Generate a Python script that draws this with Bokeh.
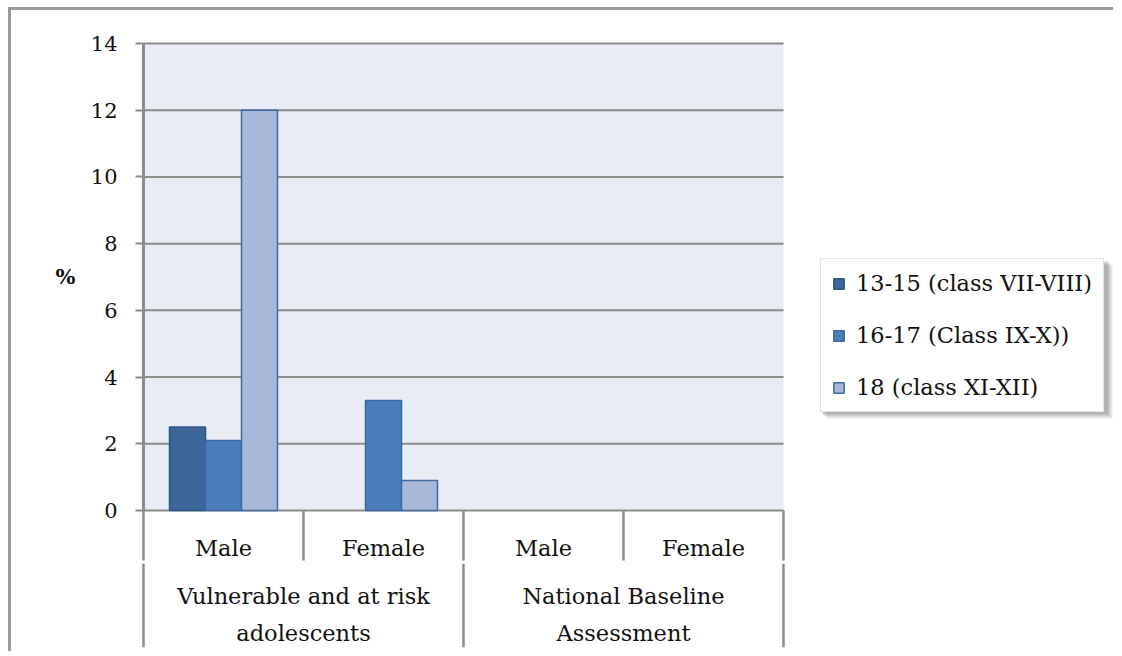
from bokeh.plotting import figure
from bokeh.models import (ColumnDataSource, Range1d, Legend, LegendItem,
                          BoxAnnotation, FixedTicker)
from bokeh.core.properties import value
from bokeh.embed import file_html
from bokeh.resources import INLINE

# ---------------- data ----------------
groups = ["Vulnerable and at risk adolescents", "National Baseline Assessment"]
group_labels = ["Vulnerable and at risk\nadolescents", "National Baseline\nAssessment"]
genders = ["Male", "Female"]
series_names = ["13-15 (class VII-VIII)", "16-17 (Class IX-X))", "18 (class XI-XII)"]
age_13_15 = [2.5, 0.0, 0.0, 0.0]
age_16_17 = [2.1, 3.3, 0.0, 0.0]
age_18 = [12.0, 0.9, 0.0, 0.0]
y_ticks = [0, 2, 4, 6, 8, 10, 12, 14]
y_label = "%"

# ---------------- style / layout ----------------
FONT = "DejaVu Serif"
GRAY = "#8c8c8c"
fills = ["#3c6698", "#4a7ebb", "#a8b8d8"]
lines = ["#2f5785", "#3a68a0", "#3d6aa3"]
offsets = [-0.225, 0.0, 0.225]
bar_w = 0.225

factors = [(g, s) for g in groups for s in genders]
n_cat = len(factors)
n_sub = len(genders)
cat_pos = [i + 0.5 for i in range(n_cat)]               # centre of each category slot
grp_pos = [sum(cat_pos[k * n_sub:(k + 1) * n_sub]) / n_sub for k in range(len(groups))]
cat_edges = [float(i) for i in range(n_cat + 1)]
grp_edges = [float(k * n_sub) for k in range(len(groups) + 1)]

PX = 160.0      # pixels per category slot
PY = 33.357     # pixels per y unit
X0, Y0 = -132 / PX, -4.317
p = figure(
    x_range=Range1d(X0, n_cat + 333 / PX),
    y_range=Range1d(Y0, 14.989),
    width=1105, height=644,
    output_backend="svg", toolbar_location=None,
    x_axis_location=None,
    min_border_left=0, min_border_right=0, min_border_top=0, min_border_bottom=0,
    background_fill_color="white", border_fill_color="white",
    outline_line_color=None,
)
p.styles = {"margin-left": "8px", "margin-top": "7px",
            "border-left": "3px solid #9a9a9a", "border-top": "3px solid #9a9a9a"}

y0, y1 = min(y_ticks), max(y_ticks)

# plot-area background band
p.add_layout(BoxAnnotation(left=cat_edges[0], right=cat_edges[-1], bottom=y0, top=y1,
                           fill_color="#e8ecf4", fill_alpha=1, line_alpha=0, level="image"))

# horizontal gridlines
p.segment(x0=cat_edges[0], x1=cat_edges[-1], y0=y_ticks, y1=y_ticks,
          line_color=GRAY, line_width=2)

# y axis, drawn at the left edge of the categories
ax = p.yaxis[0]
ax.fixed_location = cat_edges[0]
ax.ticker = FixedTicker(ticks=y_ticks)
ax.bounds = (y0, y1)
ax.axis_line_color = GRAY
ax.axis_line_width = 3
ax.major_tick_line_color = GRAY
ax.major_tick_line_width = 2
ax.major_tick_out = 8
ax.major_tick_in = 0
ax.minor_tick_line_color = None
ax.major_label_text_font = FONT
ax.major_label_text_font_size = "21px"
ax.major_label_text_color = "#111111"
ax.major_label_standoff = 18
p.xgrid.visible = False
p.ygrid.visible = False

# "%" title
p.text(x=[-78 / PX], y=[(y0 + y1) / 2], text=[y_label], text_font=value(FONT),
       text_font_size="21px", text_font_style="bold", text_color="#111111",
       text_align="center", text_baseline="middle")

# bars
renderers = []
for vals, fc, lc, off in zip([age_13_15, age_16_17, age_18], fills, lines, offsets):
    xs = [c + off for c, v in zip(cat_pos, vals) if v > 0]
    vs = [v for v in vals if v > 0]
    src = ColumnDataSource(dict(x=xs, v=vs))
    r = p.vbar(x="x", top="v", bottom=0, width=bar_w, source=src,
               fill_color=fc, line_color=lc, line_width=1.5)
    renderers.append(r)

# category separators
p.segment(x0=cat_edges, x1=cat_edges, y0=0, y1=-1.5, line_color=GRAY, line_width=2.5)
p.segment(x0=grp_edges, x1=grp_edges, y0=-1.6, y1=-4.1, line_color=GRAY, line_width=2.5)

# category labels
p.text(x=cat_pos, y=-1.11, text=[f[1] for f in factors], text_font=value(FONT),
       text_font_size="22.5px", text_align="center", text_baseline="middle",
       text_color="#111111")
p.text(x=grp_pos, y=-3.12, text=group_labels, text_font=value(FONT),
       text_font_size="22.5px", text_align="center", text_baseline="middle",
       text_color="#111111", text_line_height=1.4)

# legend drop shadow (soft layers) and legend
LX, LY, LW, LH = 809, 242, 286, 153   # legend box in frame pixels (from bottom-left)
for d, a in [(6, 0.18), (4, 0.25), (2, 0.35)]:
    p.add_layout(BoxAnnotation(left=X0 + (LX + d) / PX, right=X0 + (LX + LW + d) / PX,
                               bottom=Y0 + (LY - d) / PY, top=Y0 + (LY + LH - d) / PY,
                               fill_color="#7f7f7f", fill_alpha=a, line_alpha=0,
                               level="annotation"))
legend = Legend(items=[LegendItem(label=n, renderers=[r]) for n, r in zip(series_names, renderers)],
                location=(LX, LY), padding=11, spacing=26,
                glyph_width=13, glyph_height=13, label_standoff=11,
                label_text_font=FONT, label_text_font_size="22.5px", label_text_color="#111111",
                border_line_color="#c8c8c8", border_line_width=1,
                background_fill_color="white", background_fill_alpha=1)
p.add_layout(legend, "center")

open("out.html", "w").write(file_html(p, INLINE))
